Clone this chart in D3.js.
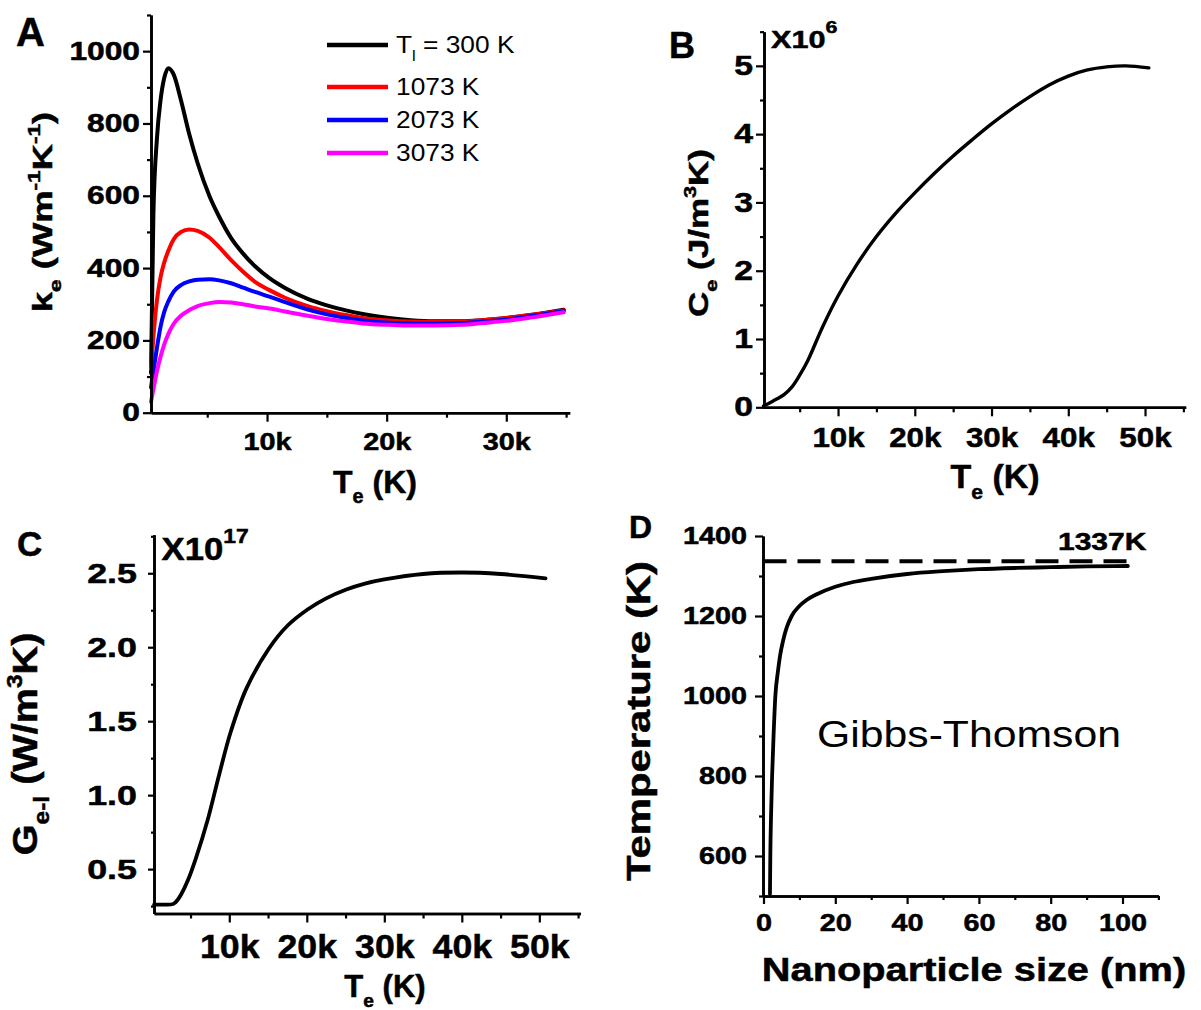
<!DOCTYPE html>
<html>
<head>
<meta charset="utf-8">
<script src="https://cdnjs.cloudflare.com/ajax/libs/d3/7.8.5/d3.min.js"></script>
<style>
  body { margin: 0; background: #fff; }
  svg { display: block; }
</style>
</head>
<body>
<div id="chart"></div>
<script>
// ---- panel A: k_e vs T_e for four lattice temperatures ----
const teA = [300, 500, 800, 1100, 1400, 1750, 2200, 2800, 3500, 4200, 5200, 6000, 7000, 8000, 9000,
  10200, 11500, 13400, 15000, 16600, 18000, 20200, 22000, 24000, 26300, 28000, 30000, 32000, 34800];
const ke300 = [110, 550, 760, 865, 925, 953, 935, 865, 770, 690, 598, 542, 483, 440, 405,
  372, 345, 315, 297, 283, 273, 262, 256, 253, 253, 256, 262, 270, 285];
const ke1073 = [120, 210, 312, 375, 415, 448, 480, 500, 507, 503, 484, 458, 422, 390, 362,
  339, 318, 295, 281, 270, 262, 255, 252, 251, 252, 256, 262, 270, 283];
const ke2073 = [70, 115, 180, 238, 278, 308, 335, 353, 363, 368, 369, 366, 358, 346, 334,
  321, 306, 285, 272, 262, 255, 249, 247, 246, 248, 252, 258, 267, 281];
const ke3073 = [30, 65, 115, 155, 188, 218, 246, 268, 284, 295, 303, 306, 305, 300, 294,
  288, 280, 268, 259, 252, 247, 243, 241, 241, 243, 248, 254, 263, 278];
const seriesA = [ke300, ke1073, ke2073, ke3073];
const colorsA = ["#000000", "#ff0000", "#0000ff", "#ff00ff"];
const legendA = [[["T", ""], ["l", "sub"], [" = 300 K", ""]], [["1073 K", ""]], [["2073 K", ""]], [["3073 K", ""]]];

// ---- panel B: C_e vs T_e (x10^6) ----
const teB = [300, 1500, 3000, 4000, 5000, 6000, 8000, 10000, 12500, 15000, 17500, 20000, 22500,
  25000, 27500, 30000, 32500, 35000, 37500, 40000, 42500, 45000, 47500, 50500];
const ceB = [0.02, 0.09, 0.19, 0.30, 0.47, 0.67, 1.18, 1.63, 2.10, 2.50, 2.84, 3.14, 3.42,
  3.68, 3.92, 4.15, 4.36, 4.55, 4.72, 4.85, 4.94, 4.985, 5.0, 4.97];

// ---- panel C: G_e-l vs T_e (x10^17) ----
const teC = [300, 1500, 2800, 3300, 3800, 4700, 5700, 7200, 8700, 10200, 12200, 15100, 17500,
  20100, 22500, 25100, 27500, 30000, 35000, 40000, 45000, 50800];
const gC = [0.26, 0.26, 0.265, 0.29, 0.33, 0.43, 0.575, 0.83, 1.14, 1.43, 1.72, 1.99, 2.145,
  2.255, 2.33, 2.39, 2.43, 2.458, 2.495, 2.505, 2.495, 2.466];

// ---- panel D: melting temperature vs particle size ----
const sizeD = [1.8, 1.9, 2.1, 2.4, 2.8, 3.3, 4.0, 4.6, 5.5, 6.5, 7.85, 10, 12, 15, 20, 25, 30,
  40, 50, 60, 70, 80, 90, 101.5];
const tmD = [505, 600, 700, 800, 900, 1000, 1060, 1100, 1140, 1172, 1200, 1225, 1240, 1255, 1273,
  1285, 1293, 1305, 1312, 1317, 1320, 1322, 1324, 1325];
const meltD = 1337;
const meltRange = [0, 101.5];

const kTicks = [10000, 20000, 30000, 40000, 50000];
const kMinor = [5000, 15000, 25000, 35000, 45000, 55000];
const kFmt = d => (d / 1000) + "k";

const FONT = "'Liberation Sans', Arial, Helvetica, sans-serif";

const svg = d3.select("#chart").append("svg")
    .attr("width", 1201)
    .attr("height", 1010);

// text with sub/superscript parts, stretched horizontally in its own frame
const label = (x, y, parts, o) => {
  const bold = (o.weight || "bold") === "bold";
  const t = svg.append("text")
      .attr("transform", `translate(${x},${y}) rotate(${o.rot || 0}) scale(${o.sx || 1},1)`)
      .attr("font-family", FONT)
      .attr("font-size", o.size)
      .attr("font-weight", o.weight || "bold")
      .attr("text-anchor", o.anchor || "start")
      .attr("fill", "#000")
      .attr("stroke", bold ? "#000" : "none")
      .attr("stroke-width", bold ? 0.5 : 0);
  let shift = 0;
  parts.forEach(([s, kind]) => {
    const target = kind === "sub" ? 0.32 * o.size : kind === "sup" ? -(o.up || 0.42) * o.size : 0;
    t.append("tspan")
        .attr("dy", target - shift)
        .attr("font-size", kind ? o.size * (o.small || 0.62) : o.size)
        .text(s);
    shift = target;
  });
  return t;
};

const drawAxis = (axisFn, scale, pos, major, minor, fmt, o) => {
  const horiz = axisFn === d3.axisBottom;
  const g = svg.append("g")
      .attr("transform", horiz ? `translate(0,${pos})` : `translate(${pos},0)`);
  g.call(axisFn(scale).tickValues(minor).tickSize(o.minor).tickSizeOuter(0).tickFormat(""));
  const gm = svg.append("g")
      .attr("transform", horiz ? `translate(0,${pos})` : `translate(${pos},0)`)
      .call(axisFn(scale).tickValues(major).tickSize(o.major).tickSizeOuter(0)
        .tickPadding(o.pad).tickFormat(fmt));
  [g, gm].forEach(a => {
    a.select(".domain").attr("stroke-width", 2.6).attr("stroke", "#000");
    a.selectAll(".tick line").attr("stroke-width", 2.2).attr("stroke", "#000");
  });
  gm.selectAll("text")
      .attr("font-family", FONT)
      .attr("font-size", o.size)
      .attr("font-weight", "bold")
      .attr("fill", "#000")
      .attr("stroke", "#000")
      .attr("stroke-width", 0.5);
  if (!horiz) {
    gm.selectAll("text").attr("x", -(o.major + o.pad) / o.sx).attr("transform", `scale(${o.sx},1)`);
  } else {
    gm.selectAll("text").attr("transform", `scale(${o.sx},1)`);
  }
};

const drawLine = (xs, ys, x, y, color, width, curve) => {
  svg.append("path")
      .datum(xs.map((v, i) => [v, ys[i]]))
      .attr("fill", "none")
      .attr("stroke", color)
      .attr("stroke-width", width)
      .attr("stroke-linejoin", "round")
      .attr("stroke-linecap", "round")
      .attr("d", d3.line().x(d => x(d[0])).y(d => y(d[1])).curve(curve || d3.curveMonotoneX));
};

// ================= A =================
const xA = d3.scaleLinear().domain([300, 35300]).range([151, 569.7]);
const yA = d3.scaleLinear().domain([0, 1100]).range([412.7, 15]);
seriesA.forEach((s, i) => drawLine(teA, s, xA, yA, colorsA[i], 4));
drawAxis(d3.axisBottom, xA, 412.7, [10000, 20000, 30000], [5000, 15000, 25000, 35000], kFmt,
  {major: 9, minor: 5, pad: 11, size: 24, sx: 1.2});
drawAxis(d3.axisLeft, yA, 151, d3.range(0, 1001, 200), d3.range(100, 1101, 200), d3.format("d"),
  {major: 8, minor: 4, pad: 3, size: 25, sx: 1.27});
const legY = [45, 87, 120, 153];
legendA.forEach((parts, i) => {
  svg.append("line").attr("x1", 327).attr("x2", 388).attr("y1", legY[i]).attr("y2", legY[i])
      .attr("stroke", colorsA[i]).attr("stroke-width", 4.5);
  label(396, legY[i] + 8, parts, {size: 23.5, weight: "normal", sx: 1.12});
});
label(16, 46, [["A", ""]], {size: 40});
label(375, 493, [["T", ""], ["e", "sub"], [" (K)", ""]], {size: 32, anchor: "middle"});
label(52, 212, [["k", ""], ["e", "sub"], [" (Wm", ""], ["-1", "sup"], ["K", ""], ["-1", "sup"], [")", ""]],
  {size: 28, anchor: "middle", rot: -90, sx: 1.3});

// ================= B =================
const xB = d3.scaleLinear().domain([300, 55300]).range([763.6, 1185.7]);
const yB = d3.scaleLinear().domain([0, 5.5]).range([407.3, 31.7]);
drawLine(teB, ceB, xB, yB, "#000", 3.4, d3.curveCatmullRom);
drawAxis(d3.axisBottom, xB, 407.3, kTicks, kMinor, kFmt, {major: 9, minor: 5, pad: 10.5, size: 28, sx: 1.12});
drawAxis(d3.axisLeft, yB, 764, d3.range(0, 6, 1), d3.range(0.5, 5.6, 1), d3.format("d"),
  {major: 8, minor: 4, pad: 3, size: 27, sx: 1.25});
label(669, 58, [["B", ""]], {size: 36});
label(771, 48, [["X10", ""], ["6", "sup"]], {size: 24.5, sx: 1.25, small: 0.7, up: 0.6});
label(995, 488, [["T", ""], ["e", "sub"], [" (K)", ""]], {size: 34, anchor: "middle"});
label(708, 233, [["C", ""], ["e", "sub"], [" (J/m", ""], ["3", "sup"], ["K)", ""]],
  {size: 28, anchor: "middle", rot: -90, sx: 1.25});

// ================= C =================
const xC = d3.scaleLinear().domain([300, 55300]).range([154.1, 580.4]);
const yC = d3.scaleLinear().domain([0.2, 2.76]).range([913.5, 534.8]);
drawLine(teC, gC, xC, yC, "#000", 3.8, d3.curveCatmullRom);
drawAxis(d3.axisBottom, xC, 913.5, kTicks, kMinor, kFmt, {major: 9, minor: 5, pad: 11, size: 34, sx: 1.05});
drawAxis(d3.axisLeft, yC, 154, [0.5, 1.0, 1.5, 2.0, 2.5], [0.25, 0.75, 1.25, 1.75, 2.25, 2.75], d3.format(".1f"),
  {major: 6, minor: 3, pad: 11, size: 28, sx: 1.28});
label(17, 556, [["C", ""]], {size: 35});
label(161.5, 560, [["X10", ""], ["17", "sup"]], {size: 31, sx: 1.12, small: 0.66, up: 0.55});
label(385, 997, [["T", ""], ["e", "sub"], [" (K)", ""]], {size: 31, anchor: "middle"});
label(37, 744, [["G", ""], ["e-l", "sub"], [" (W/m", ""], ["3", "sup"], ["K)", ""]],
  {size: 36, anchor: "middle", rot: -90, sx: 1.1});

// ================= D =================
const xD = d3.scaleLinear().domain([0, 110]).range([763.5, 1158.4]);
const yD = d3.scaleLinear().domain([500, 1400]).range([896, 536]);
svg.append("line")
    .attr("x1", xD(meltRange[0])).attr("x2", xD(meltRange[1]))
    .attr("y1", yD(meltD)).attr("y2", yD(meltD))
    .attr("stroke", "#000").attr("stroke-width", 4).attr("stroke-dasharray", "23,11");
drawLine(sizeD, tmD, xD, yD, "#000", 3.8);
drawAxis(d3.axisBottom, xD, 896, d3.range(0, 101, 20), d3.range(10, 111, 20), d3.format("d"),
  {major: 8, minor: 4, pad: 10, size: 24, sx: 1.2});
drawAxis(d3.axisLeft, yD, 763, d3.range(600, 1401, 200), d3.range(500, 1301, 200), d3.format("d"),
  {major: 8, minor: 4, pad: 8, size: 23, sx: 1.25});
label(629, 538, [["D", ""]], {size: 32});
label(1058, 550, [["1337K", ""]], {size: 24, sx: 1.25});
label(817, 747, [["Gibbs-Thomson", ""]], {size: 37, weight: "normal", sx: 1.155});
label(974, 981, [["Nanoparticle size (nm)", ""]], {size: 34, anchor: "middle", sx: 1.17});
label(650, 721, [["Temperature (K)", ""]], {size: 34, anchor: "middle", rot: -90, sx: 1.23});
</script>
</body>
</html>
